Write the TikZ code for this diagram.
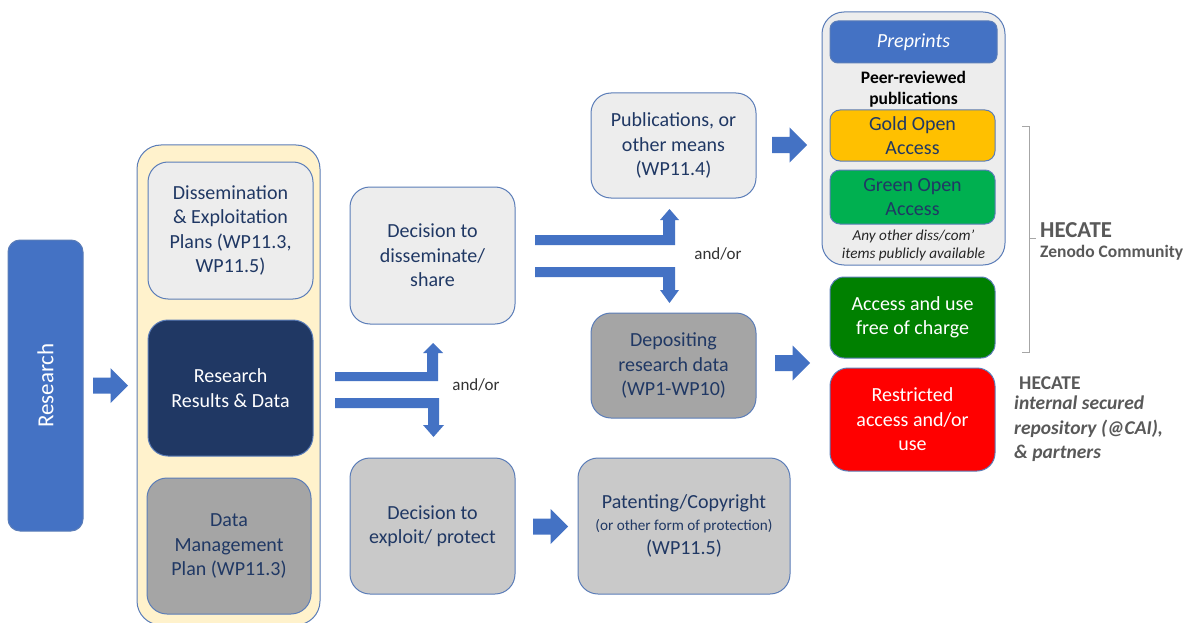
\documentclass[tikz,border=0pt]{standalone}
\usepackage{fontspec}
\setmainfont{Carlito}
\usetikzlibrary{calc}
\definecolor{bblue}{HTML}{4472C4}
\definecolor{bord}{HTML}{5B7DB8}
\definecolor{navy}{HTML}{203864}
\definecolor{lgray}{HTML}{EDEDED}
\definecolor{mgray}{HTML}{C9C9C9}
\definecolor{dgray}{HTML}{A5A5A5}
\definecolor{cream}{HTML}{FFF2CC}
\definecolor{gold}{HTML}{FFC000}
\definecolor{lgreen}{HTML}{00B050}
\definecolor{dgreen}{HTML}{008000}
\definecolor{tgray}{HTML}{595959}
\tikzset{
  box/.style={draw=bord, line width=1pt, rounded corners=20pt, align=center, inner sep=0pt,
    font=\fontsize{20}{24.4}\selectfont, text=navy},
  cont/.style={draw=bord, line width=1pt, rounded corners=24pt, inner sep=0pt},
  arrowfill/.style={fill=bblue},
  lbl/.style={font=\fontsize{17}{20}\selectfont, text=black!80, inner sep=0pt}
}
\newcommand\barrow[2]{\fill[arrowfill, shift={(#1,#2)}] (-17.5,-8) -- (0,-8) -- (0,-17.5) -- (17.5,0) -- (0,17.5) -- (0,8) -- (-17.5,8) -- cycle;}
\begin{document}
\begin{tikzpicture}[x=1pt,y=-1pt]
\useasboundingbox[fill=white] (0,0) rectangle (1191,623);
% containers
\node[cont, fill=cream, minimum width=183pt, minimum height=480pt] (left) at (228.5,385) {};
\node[cont, fill=lgray, minimum width=183pt, minimum height=253pt, rounded corners=22pt] (right) at (913.5,138.5) {};
% research
\node[box, fill=bblue, draw=bord, minimum width=291pt, minimum height=75pt, rounded corners=12pt, text=white, rotate=90, font=\fontsize{23}{26}\selectfont] (res) at (45.5,385.5) {Research};
\barrow{110.5}{385.5}
% left column
\node[box, fill=lgray, minimum width=165pt, minimum height=137pt] (dep) at (230.5,230.5) {Dissemination\\\& Exploitation\\Plans (WP11.3,\\WP11.5)};
\node[box, fill=navy, minimum width=165pt, minimum height=136pt, text=white] (rrd) at (230.5,388) {Research\\Results \& Data};
\node[box, fill=dgray, minimum width=164pt, minimum height=136pt] (dmp) at (229,546) {Data\\Management\\Plan (WP11.3)};
% split arrows 1
\fill[arrowfill] (335,372) -- (427,372) -- (427,353) -- (423,353) -- (433,343) -- (443,353) -- (438,353) -- (438,381) -- (335,381) -- cycle;
\fill[arrowfill] (335,398) -- (439,398) -- (439,425) -- (444,425) -- (433.5,437) -- (423,425) -- (428,425) -- (428,408) -- (335,408) -- cycle;
\node[lbl] (ao1) at (476,385) {and/or};
% decision boxes
\node[box, fill=lgray, minimum width=165pt, minimum height=137pt] (dds) at (432.5,255.5) {Decision to\\disseminate/\\share};
\node[box, fill=mgray, minimum width=165pt, minimum height=136pt] (dep2) at (432.5,526) {Decision to\\exploit/ protect};
\barrow{550.5}{526.5}
\node[box, fill=mgray, minimum width=212pt, minimum height=136pt] (pat) at (684,526) {Patenting/Copyright\\[-3pt]{\fontsize{15.2}{18}\selectfont (or other form of protection)}\\(WP11.5)};
% split arrows 2
\fill[arrowfill] (535,235) -- (663,235) -- (663,220) -- (660,220) -- (669.5,209) -- (679,220) -- (675,220) -- (675,245) -- (535,245) -- cycle;
\fill[arrowfill] (535,267) -- (675,267) -- (675,290) -- (679,290) -- (669.5,303) -- (660,290) -- (663,290) -- (663,277) -- (535,277) -- cycle;
\node[lbl] (ao2) at (718,254) {and/or};
% middle boxes
\node[box, fill=lgray, minimum width=165pt, minimum height=105pt] (pub) at (673.5,145.5) {Publications, or\\other means\\(WP11.4)};
\node[box, fill=dgray, minimum width=165pt, minimum height=105pt] (drd) at (673.5,365.5) {Depositing\\research data\\(WP1-WP10)};
\barrow{789.5}{145}
\barrow{792.5}{363}
% right column
\node[box, fill=bblue, minimum width=167pt, minimum height=42pt, rounded corners=8pt, text=white, font=\fontsize{20}{24.4}\selectfont\itshape] (pre) at (913.5,42) {Preprints};
\node[align=center, inner sep=0pt, font=\fontsize{17.5}{21}\selectfont\bfseries] (prp) at (913.5,89) {Peer-reviewed\\publications};
\node[box, fill=gold, minimum width=165pt, minimum height=51pt, rounded corners=10pt] (gold) at (912.5,135.5) {Gold Open\\Access};
\node[box, fill=lgreen, minimum width=165pt, minimum height=54pt, rounded corners=10pt] (green) at (912.5,197) {Green Open\\Access};
\node[align=center, inner sep=0pt, font=\fontsize{15.2}{18}\selectfont\itshape, text=black!85] (other) at (913.5,245) {Any other diss/com'\\items publicly available};
\node[box, fill=dgreen, minimum width=165pt, minimum height=81pt, rounded corners=14pt, text=white] (free) at (912.5,317.5) {Access and use\\free of charge};
\node[box, fill=red, minimum width=165pt, minimum height=103pt, rounded corners=18pt, text=white] (restr) at (912.5,419.5) {Restricted\\access and/or\\use};
% bracket
\coordinate (bt) at (1022,127);
\coordinate (bb) at (1022,352);
\draw[black!35, line width=1pt] (bt) -- (1029,127) -- (1029,352) -- (bb);
\draw[black!35, line width=1pt] (1029,238) -- (1036,238);
\node[anchor=west, inner sep=0pt, font=\fontsize{22.8}{26}\selectfont\bfseries, text=tgray] (hec1) at (1040,230) {HECATE};
\node[anchor=west, inner sep=0pt, font=\fontsize{17.5}{20}\selectfont\bfseries, text=tgray] (zen) at (1040,253) {Zenodo Community};
\node[anchor=west, inner sep=0pt, font=\fontsize{19.5}{24}\selectfont\bfseries, text=tgray] (hec2) at (1019,383) {HECATE};
\node[anchor=north west, align=left, inner sep=0pt, font=\fontsize{19.5}{24.5}\selectfont\bfseries\itshape, text=tgray] (int) at (1014,396) {internal secured\\repository (@CAI),\\\& partners};
\end{tikzpicture}
\end{document}
